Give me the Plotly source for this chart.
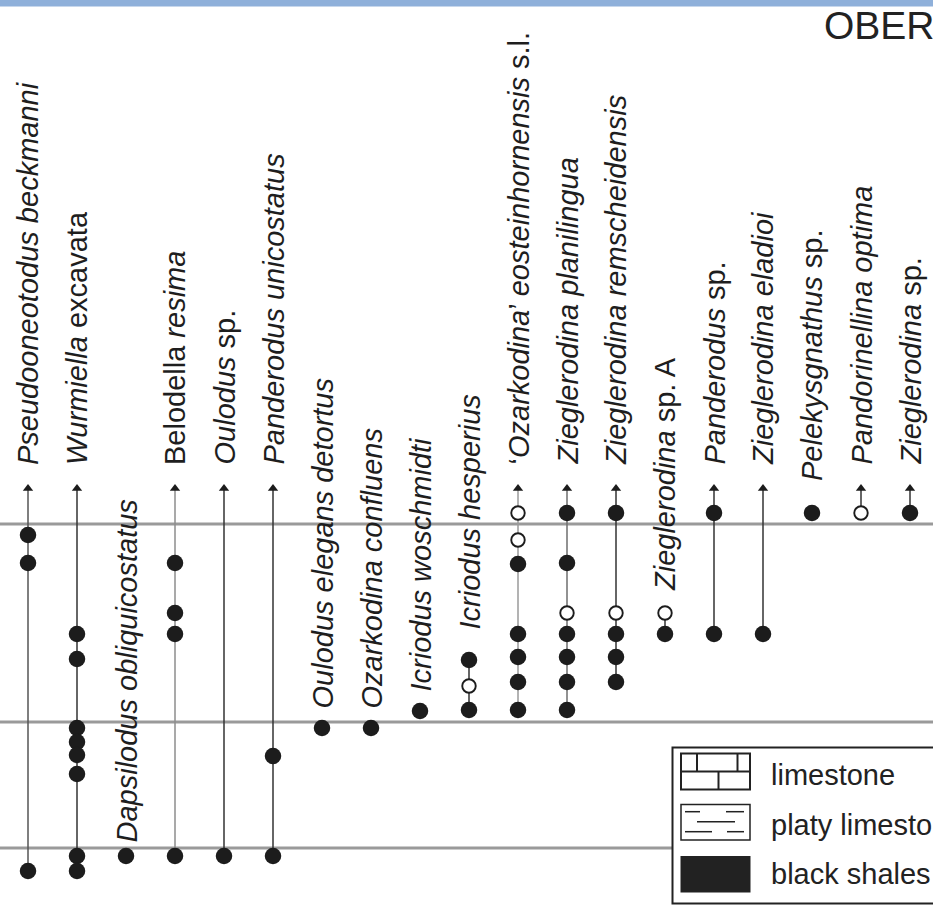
import plotly.graph_objects as go

# ---------------- data ----------------
taxa = [
    "<i>Pseudooneotodus beckmanni</i>",
    "<i>Wurmiella</i> excavata",
    "<i>Dapsilodus obliquicostatus</i>",
    "Belodella <i>resima</i>",
    "<i>Oulodus</i> sp.",
    "<i>Panderodus unicostatus</i>",
    "<i>Oulodus elegans detortus</i>",
    "<i>Ozarkodina confluens</i>",
    "<i>Icriodus woschmidti</i>",
    "<i>Icriodus hesperius</i>",
    "\u2018<i>Ozarkodina</i>\u2019 <i>eosteinhornensis</i> s.l.",
    "<i>Zieglerodina planilingua</i>",
    "<i>Zieglerodina remscheidensis</i>",
    "<i>Zieglerodina</i> sp. A",
    "<i>Panderodus</i> sp.",
    "<i>Zieglerodina eladioi</i>",
    "<i>Pelekysgnathus</i> sp.",
    "<i>Pandorinellina optima</i>",
    "<i>Zieglerodina</i> sp.",
]

# taxon continues upward (arrow)
ranges_through = [True, True, False, True, True, True, False, False, False, False,
                  True, True, True, False, True, True, False, True, True]

# sample levels (section height units) with filled / open symbols
filled_levels = [
    [37.9, 35.1, 4.3],
    [28.0, 25.5, 18.6, 17.2, 15.9, 14.0, 5.8, 4.3],
    [5.8],
    [35.1, 30.1, 28.0, 5.8],
    [5.8],
    [15.8, 5.8],
    [18.6],
    [18.6],
    [20.3],
    [25.4, 20.4],
    [35.0, 28.0, 25.7, 23.2, 20.4],
    [40.1, 35.1, 28.0, 25.7, 23.2, 20.4],
    [40.1, 28.0, 25.7, 23.2],
    [28.0],
    [40.1, 28.0],
    [28.0],
    [40.1],
    [],
    [40.1],
]
open_levels = [
    [], [], [], [], [], [], [], [], [],
    [22.8],
    [40.1, 37.4],
    [30.1],
    [30.1],
    [30.1],
    [], [], [],
    [40.1],
    [],
]

boundary_levels = [39.0, 19.2, 6.6]
arrow_level = 43.0
legend_labels = ["limestone", "platy limestone", "black shales"]
header_text = "OBER"

# ---------------- styling ----------------
W, H = 933, 914
FONT = "Arial, 'Liberation Sans', Helvetica, sans-serif"
INK = "#1c1c1c"
line_colors = {0: "#555555", 3: "#8c8c8c", 10: "#9a9a9a", 11: "#6e6e6e"}
label_gap = {2: 1.1, 9: 2.8, 13: 2.0, 16: 3.0}
DEFAULT_GAP = 1.7


def pxx(x):
    return x / W


def pxy(y):
    return 1 - y / H


fig = go.Figure()

# range lines
for i, name in enumerate(taxa):
    lv = filled_levels[i] + open_levels[i]
    bottom = min(lv)
    top = arrow_level - 0.4 if ranges_through[i] else max(lv)
    if top > bottom:
        fig.add_trace(go.Scatter(
            x=[i, i], y=[bottom, top], mode="lines",
            line=dict(color=line_colors.get(i, "#333333"), width=1.5),
            hoverinfo="skip", showlegend=False))

# arrow heads
ax = [i for i in range(len(taxa)) if ranges_through[i]]
fig.add_trace(go.Scatter(
    x=ax, y=[arrow_level - 0.45] * len(ax), mode="markers",
    marker=dict(symbol="triangle-up", size=9, color=INK, line=dict(width=0)),
    hoverinfo="skip", showlegend=False))

# filled occurrences
fx, fy = [], []
for i, lv in enumerate(filled_levels):
    fx += [i] * len(lv)
    fy += lv
fig.add_trace(go.Scatter(
    x=fx, y=fy, mode="markers",
    marker=dict(symbol="circle", size=16.5, color=INK, line=dict(width=0)),
    hoverinfo="skip", showlegend=False))

# open occurrences
ox, oy = [], []
for i, lv in enumerate(open_levels):
    ox += [i] * len(lv)
    oy += lv
fig.add_trace(go.Scatter(
    x=ox, y=oy, mode="markers",
    marker=dict(symbol="circle", size=13.5, color="white", line=dict(width=1.9, color=INK)),
    hoverinfo="skip", showlegend=False))

shapes = []
# boundary lines
for lv in boundary_levels:
    shapes.append(dict(type="line", xref="paper", yref="y", x0=0, x1=1, y0=lv, y1=lv,
                       line=dict(color="#9a9a9a", width=3), layer="below"))
# top blue band
shapes.append(dict(type="rect", xref="paper", yref="paper", x0=0, x1=1,
                   y0=pxy(6.5), y1=1, fillcolor="#8fb0da", line=dict(width=0), layer="above"))
# legend box
shapes.append(dict(type="rect", xref="paper", yref="paper", x0=pxx(672.5), x1=pxx(950),
                   y0=pxy(903.5), y1=pxy(747.5), fillcolor="white",
                   line=dict(color="#222222", width=2), layer="above"))
# limestone swatch (brick)
lw = dict(color="#222222", width=2)
shapes.append(dict(type="rect", xref="paper", yref="paper", x0=pxx(681), x1=pxx(750),
                   y0=pxy(789.5), y1=pxy(753.5), fillcolor="white", line=lw, layer="above"))
for seg in [((681, 771.5), (750, 771.5)), ((697, 753.5), (697, 771.5)),
            ((737.5, 753.5), (737.5, 771.5)), ((718.5, 771.5), (718.5, 789.5))]:
    shapes.append(dict(type="line", xref="paper", yref="paper",
                       x0=pxx(seg[0][0]), y0=pxy(seg[0][1]), x1=pxx(seg[1][0]), y1=pxy(seg[1][1]),
                       line=lw, layer="above"))
# platy limestone swatch
lw2 = dict(color="#222222", width=1.5)
shapes.append(dict(type="rect", xref="paper", yref="paper", x0=pxx(681), x1=pxx(750),
                   y0=pxy(840), y1=pxy(804.5), fillcolor="white", line=lw2, layer="above"))
for (x0, x1, y) in [(685, 700, 811.7), (726, 744, 811.7), (697, 735, 821.7),
                    (685, 712, 831.7), (727, 744, 831.7)]:
    shapes.append(dict(type="line", xref="paper", yref="paper",
                       x0=pxx(x0), x1=pxx(x1), y0=pxy(y), y1=pxy(y), line=lw2, layer="above"))
# black shales swatch
shapes.append(dict(type="rect", xref="paper", yref="paper", x0=pxx(680.5), x1=pxx(750.5),
                   y0=pxy(892.5), y1=pxy(856), fillcolor="#222222", line=dict(width=0), layer="above"))

annotations = []
for i, name in enumerate(taxa):
    lv = filled_levels[i] + open_levels[i]
    top = arrow_level if ranges_through[i] else max(lv)
    annotations.append(dict(
        x=i, y=top + label_gap.get(i, DEFAULT_GAP), xref="x", yref="y",
        text=name, showarrow=False, textangle=-90,
        xanchor="center", yanchor="bottom", xshift=0,
        font=dict(family=FONT, size=29, color="#1e1e1e")))

for k, lab in enumerate(legend_labels):
    annotations.append(dict(
        x=pxx(769), y=pxy(775 + k * 49.5), xref="paper", yref="paper",
        text=lab, showarrow=False, xanchor="left", yanchor="middle",
        font=dict(family=FONT, size=29, color="#222222")))

annotations.append(dict(
    x=pxx(822), y=pxy(25), xref="paper", yref="paper", text=header_text,
    showarrow=False, xanchor="left", yanchor="middle",
    font=dict(family=FONT, size=39, color="#222222")))

fig.update_layout(
    width=W, height=H,
    margin=dict(l=0, r=0, t=0, b=0, pad=0),
    paper_bgcolor="white", plot_bgcolor="white",
    xaxis=dict(range=[-28 / 49, (W - 28) / 49], visible=False, fixedrange=True),
    yaxis=dict(range=[0, H / 10], visible=False, fixedrange=True),
    shapes=shapes, annotations=annotations, showlegend=False,
)

fig.write_html("out.html", config={"displayModeBar": False},
               post_script="document.body.style.margin='0';document.body.style.overflow='hidden';")
